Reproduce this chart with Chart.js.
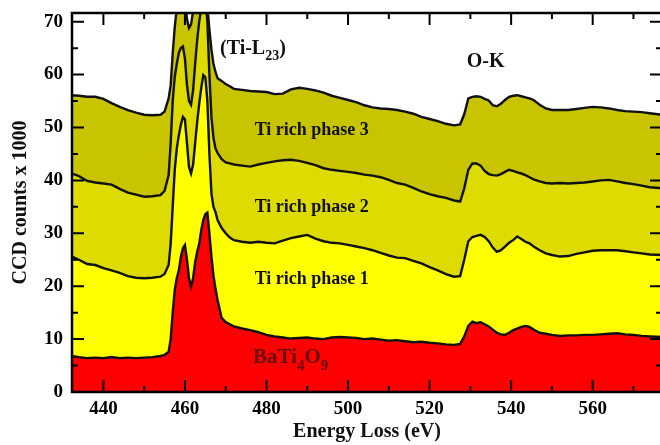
<!DOCTYPE html>
<html>
<head>
<meta charset="utf-8">
<script src="https://cdn.jsdelivr.net/npm/chart.js@4.4.0/dist/chart.umd.min.js"></script>
<style>
  html, body { margin: 0; padding: 0; background: #fff; overflow: hidden; }
</style>
</head>
<body>
<canvas id="eels" width="664" height="445"></canvas>
<script>
// energy loss axis (eV), shared by all four spectra
const energy = [
  432.3, 434, 436, 438, 440, 442, 444, 446, 448, 450, 452, 454, 455,
  456, 456.5, 457, 457.5, 458, 458.5, 459, 459.5, 460, 460.5, 461, 461.5, 462, 462.5, 463, 463.5, 464, 464.5, 465, 465.5, 466, 466.5, 467, 467.5, 468,
  469, 470, 471, 472, 474, 476, 478, 480, 482, 484, 486, 488, 490, 492, 494, 496, 498, 500, 502, 504, 506, 508, 510, 512, 514, 516, 518, 520, 522, 524, 526, 527.5,
  528.5, 529.5, 530.5, 531.5, 532.5, 533.5, 534.5, 535.5, 536.5, 537.5, 538.5, 539.5, 540.5, 541.5, 542.5, 543.5, 544.5, 545.5, 547, 548.5, 550,
  552, 554, 556, 558, 560, 562, 564, 566, 568, 570, 572, 574, 577
];

// CCD counts x 1000
const baTi4O9 = [
  6.8, 6.6, 6.4, 6.5, 6.4, 6.6, 6.4, 6.5, 6.4, 6.5, 6.6, 6.8, 7.0,
  7.6, 10, 15, 19.3, 21.5, 23, 25.5, 27.2, 27.8, 25, 21.5, 19.9, 21.5, 24.5, 26.5, 28, 30.6, 32.5, 33.6, 33.9, 30, 25.6, 22, 19.5, 17.4,
  14, 13.2, 12.8, 12.4, 12.0, 11.7, 11.3, 10.8, 10.5, 10.3, 10.1, 10.2, 10.3, 10.1, 10.0, 10.3, 10.4, 10.3, 10.2, 10.0, 10.1, 9.9, 9.7, 9.8, 9.6, 9.4, 9.5, 9.3, 9.2, 9.0, 8.9, 9.1,
  10.5, 12.5, 13.3, 13.0, 13.2, 12.8, 12.4, 11.8, 11.2, 10.9, 10.8, 11.2, 11.7, 12.0, 12.3, 12.5, 12.3, 11.8, 11.2, 11.0, 10.8,
  10.6, 10.7, 10.7, 10.8, 10.8, 10.9, 11.0, 11.1, 10.9, 10.8, 10.6, 10.5, 10.4
];
const phase1 = [
  25.6, 25.0, 24.2, 24.0, 23.4, 23.0, 22.5, 21.9, 21.6, 21.5, 21.6, 21.8, 22.3,
  24, 28, 35, 42, 46, 48.5, 50.5, 52.0, 51.5, 47, 42.5, 41.3, 43, 47, 51, 54.5, 57.5, 59.9, 59.5, 55, 45, 37.5, 35, 34, 32.5,
  31, 30.0, 29.2, 28.7, 28.4, 28.2, 28.4, 28.2, 28.1, 28.6, 29.1, 29.4, 29.7, 29.0, 28.5, 28.2, 28.1, 27.8, 27.5, 27.2, 26.8, 26.3, 25.8, 25.4, 25.3, 24.8, 24.3, 23.6, 23.0, 22.3, 21.8, 21.9,
  25, 28.5, 29.3, 29.5, 29.7, 29.3, 28.5, 27.3, 26.5, 26.8, 27.5, 28.2, 28.7, 29.4, 28.9, 28.4, 28.1, 27.5, 26.8, 26.2, 25.9,
  25.6, 25.7, 26.1, 26.4, 26.7, 26.8, 26.8, 26.8, 26.6, 26.4, 26.2, 26.0, 25.9
];
const phase2 = [
  41.3, 40.8, 39.9, 39.6, 39.4, 39.2, 38.4, 37.7, 37.3, 36.9, 37.0, 37.2, 38.0,
  41, 47, 55, 59.6, 62, 64.1, 65, 65.3, 63, 58, 55, 54.3, 57, 62, 66.5, 70, 72.5, 74, 74.5, 70, 60, 52, 48, 46, 45.2,
  44, 43.4, 43.2, 43.0, 42.8, 42.6, 43.0, 43.3, 43.6, 43.8, 43.9, 43.7, 43.3, 42.9, 42.3, 42.0, 41.8, 41.6, 41.4, 41.1, 40.9, 40.6, 40.1, 39.5, 39.2, 38.6, 37.9, 37.4, 37.0, 36.7, 36.2, 36.0,
  38.5, 42.0, 43.2, 43.2, 42.8, 41.8, 41.2, 41.0, 40.9, 41.2, 41.6, 42.0, 41.8, 41.5, 41.3, 41.0, 40.6, 40.2, 39.8, 39.5, 39.4,
  39.5, 39.4, 39.5, 39.6, 39.8, 40.0, 40.1, 39.8, 39.5, 39.3, 39.0, 38.7, 38.5
];
const phase3 = [
  56.1, 56.0, 55.8, 55.8, 55.4, 54.6, 53.9, 53.3, 52.8, 52.4, 52.3, 52.4, 53.0,
  55.5, 58, 64, 69, 72.5, 75, 76, 76, 74, 70.5, 68.8, 69.5, 72, 75, 78, 80, 81, 81, 80, 73, 68.5, 64.7, 62, 60.5, 59.3,
  58.8, 58.2, 57.8, 57.3, 57.1, 56.9, 56.8, 56.7, 56.3, 56.4, 57.2, 57.5, 57.3, 57.0, 56.6, 56.0, 55.6, 55.2, 54.8, 54.2, 53.8, 53.6, 53.5, 53.3, 53.0, 52.6, 52.0, 51.6, 51.2, 50.7, 50.4, 50.6,
  52.5, 55.5, 55.8, 55.9, 55.8, 55.4, 55.1, 54.2, 54.0, 54.5, 55.2, 55.8, 56.0, 56.1, 55.9, 55.7, 55.5, 55.2, 54.3, 53.6, 53.3,
  53.3, 53.3, 53.5, 53.7, 53.9, 53.8, 53.6, 53.3, 53.1, 53.0, 52.9, 52.7, 52.4
];

const xTicks = [440, 460, 480, 500, 520, 540, 560];
const xMinorTicks = [450, 470, 490, 510, 530, 550, 570];
const yTicks = [0, 10, 20, 30, 40, 50, 60, 70];
const yMinorTicks = [5, 15, 25, 35, 45, 55, 65];

const serif = '"Liberation Serif", "DejaVu Serif", serif';

// text labels placed in data coordinates; [text, isSubscript]
const notes = [
  { x: 468.6, y: 63.8, size: 20, color: '#111', parts: [['(Ti-L', false], ['23', true], [')', false]] },
  { x: 529.1, y: 61.5, size: 20, color: '#111', parts: [['O-K', false]] },
  { x: 477.1, y: 48.6, size: 18, color: '#111', parts: [['Ti rich phase 3', false]] },
  { x: 477.1, y: 34.1, size: 18, color: '#111', parts: [['Ti rich phase 2', false]] },
  { x: 477.1, y: 20.5, size: 18, color: '#111', parts: [['Ti rich phase 1', false]] },
  { x: 476.7, y: 5.4, size: 21, color: '#650c0c', parts: [['BaTi', false], ['4', true], ['O', false], ['9', true]] }
];

function series(values) {
  return energy.map((e, i) => ({ x: e, y: values[i] }));
}

const frameAndLabels = {
  id: 'frameAndLabels',
  afterDatasetsDraw(chart) {
    const { ctx, chartArea: a, scales: { x, y } } = chart;
    ctx.save();
    ctx.strokeStyle = '#000';
    ctx.lineWidth = 2;
    ctx.beginPath();
    const xMark = (v, len) => {
      const px = x.getPixelForValue(v);
      ctx.moveTo(px, a.bottom); ctx.lineTo(px, a.bottom - len);
      ctx.moveTo(px, a.top); ctx.lineTo(px, a.top + len);
    };
    const yMark = (v, len) => {
      const py = y.getPixelForValue(v);
      ctx.moveTo(a.left, py); ctx.lineTo(a.left + len, py);
      ctx.moveTo(a.right, py); ctx.lineTo(a.right - len, py);
    };
    xTicks.forEach(v => xMark(v, 12));
    xMinorTicks.forEach(v => xMark(v, 6));
    yTicks.forEach(v => yMark(v, 12));
    yMinorTicks.forEach(v => yMark(v, 6));
    ctx.stroke();
    ctx.lineWidth = 2.5;
    ctx.strokeRect(a.left, a.top, a.right - a.left, a.bottom - a.top);

    ctx.textBaseline = 'alphabetic';
    ctx.textAlign = 'left';
    notes.forEach(n => {
      let px = x.getPixelForValue(n.x);
      const py = y.getPixelForValue(n.y);
      ctx.fillStyle = n.color;
      n.parts.forEach(([txt, sub]) => {
        const size = sub ? Math.round(n.size * 0.7) : n.size;
        ctx.font = 'bold ' + size + 'px ' + serif;
        ctx.fillText(txt, px, py + (sub ? n.size * 0.3 : 0));
        px += ctx.measureText(txt).width;
      });
    });
    ctx.restore();
  }
};

new Chart(document.getElementById('eels'), {
  type: 'line',
  data: {
    datasets: [
      { label: 'BaTi4O9', data: series(baTi4O9), backgroundColor: '#ff0000', fill: 'origin' },
      { label: 'Ti rich phase 1', data: series(phase1), backgroundColor: '#ffff00', fill: '-1' },
      { label: 'Ti rich phase 2', data: series(phase2), backgroundColor: '#dedb00', fill: '-1' },
      { label: 'Ti rich phase 3', data: series(phase3), backgroundColor: '#c8c400', fill: '-1' }
    ]
  },
  options: {
    responsive: false,
    animation: false,
    layout: { padding: { top: 13, right: 2, left: 0, bottom: 0 } },
    elements: {
      line: { borderColor: '#111', borderWidth: 2.4, tension: 0 },
      point: { radius: 0 }
    },
    scales: {
      x: {
        type: 'linear',
        min: 432.3,
        max: 577,
        afterBuildTicks: s => { s.ticks = xTicks.map(v => ({ value: v })); },
        afterFit: s => { s.height = 53; s.paddingLeft = 0; s.paddingRight = 0; },
        grid: { display: false, drawTicks: false },
        border: { display: false },
        ticks: { color: '#000', padding: 6, font: { family: serif, size: 19, weight: 'bold' } },
        title: {
          display: true,
          text: 'Energy Loss (eV)',
          color: '#111',
          padding: { top: 0, bottom: 1 },
          font: { family: serif, size: 20, weight: 'bold' }
        }
      },
      y: {
        min: 0,
        max: 71.64,
        afterBuildTicks: s => { s.ticks = yTicks.map(v => ({ value: v })); },
        afterFit: s => { s.width = 72; s.paddingTop = 0; s.paddingBottom = 0; },
        grid: { display: false, drawTicks: false },
        border: { display: false },
        ticks: { color: '#000', padding: 9, font: { family: serif, size: 19, weight: 'bold' } },
        title: {
          display: true,
          text: 'CCD counts x 1000',
          color: '#111',
          padding: { top: 9, bottom: 0 },
          font: { family: serif, size: 20, weight: 'bold' }
        }
      }
    },
    plugins: {
      legend: { display: false },
      tooltip: { enabled: false }
    }
  },
  plugins: [frameAndLabels]
});
</script>
</body>
</html>
